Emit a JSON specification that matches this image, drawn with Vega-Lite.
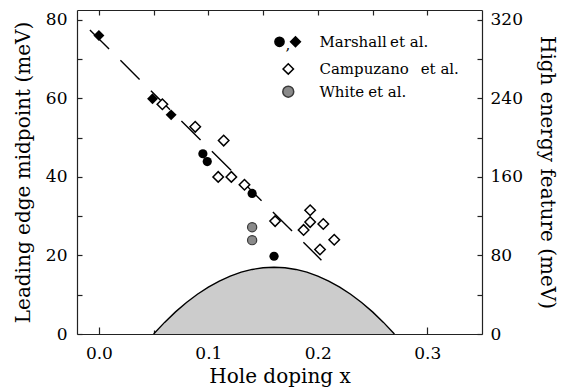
{
  "$schema": "https://vega.github.io/schema/vega-lite/v6.json",
  "width": 405,
  "height": 324,
  "autosize": {"type": "none"},
  "padding": {"left": 77, "top": 10, "right": 83, "bottom": 58},
  "background": "white",
  "config": {
    "font": "DejaVu Serif",
    "view": {"stroke": null},
    "axis": {
      "domainColor": "#222", "tickColor": "#222", "labelColor": "black", "titleColor": "black",
      "labelFont": "DejaVu Serif", "titleFont": "DejaVu Serif",
      "labelFontSize": 17, "titleFontSize": 20, "titleFontWeight": "normal",
      "grid": false, "tickSize": -5, "domainWidth": 1.2, "tickWidth": 1.2
    }
  },
  "datasets": {
    "dome": [
      {"x": 0.05, "y": 0}, {"x": 0.06, "y": 2.96}, {"x": 0.07, "y": 5.63}, {"x": 0.08, "y": 8.01},
      {"x": 0.09, "y": 10.12}, {"x": 0.10, "y": 11.94}, {"x": 0.11, "y": 13.49}, {"x": 0.12, "y": 14.75},
      {"x": 0.13, "y": 15.74}, {"x": 0.14, "y": 16.44}, {"x": 0.15, "y": 16.86}, {"x": 0.16, "y": 17.0},
      {"x": 0.17, "y": 16.86}, {"x": 0.18, "y": 16.44}, {"x": 0.19, "y": 15.74}, {"x": 0.20, "y": 14.75},
      {"x": 0.21, "y": 13.49}, {"x": 0.22, "y": 11.94}, {"x": 0.23, "y": 10.12}, {"x": 0.24, "y": 8.01},
      {"x": 0.25, "y": 5.63}, {"x": 0.26, "y": 2.96}, {"x": 0.27, "y": 0}
    ],
    "fit": [{"x": -0.0082, "y": 77.4}, {"x": 0.2033, "y": 18.8}],
    "marshallCircle": [
      {"x": 0.095, "y": 45.9}, {"x": 0.099, "y": 43.9}, {"x": 0.140, "y": 35.8}, {"x": 0.160, "y": 19.8}
    ],
    "marshallDiamond": [
      {"x": 0.0, "y": 76.0}, {"x": 0.049, "y": 59.9}, {"x": 0.066, "y": 55.8}
    ],
    "white": [
      {"x": 0.140, "y": 27.2}, {"x": 0.140, "y": 23.9}
    ],
    "campuzano": [
      {"x": 0.058, "y": 234}, {"x": 0.088, "y": 211}, {"x": 0.114, "y": 197}, {"x": 0.109, "y": 160},
      {"x": 0.121, "y": 160}, {"x": 0.133, "y": 152}, {"x": 0.161, "y": 115}, {"x": 0.193, "y": 126},
      {"x": 0.193, "y": 114}, {"x": 0.187, "y": 106}, {"x": 0.205, "y": 112}, {"x": 0.202, "y": 86},
      {"x": 0.215, "y": 96}
    ],
    "legendSym": [
      {"x": 0.165, "y": 74.4, "s": "fc"}, {"x": 0.1796, "y": 74.4, "s": "fd"},
      {"x": 0.173, "y": 67.5, "s": "od"}, {"x": 0.173, "y": 61.7, "s": "gc"}
    ],
    "legendText": [
      {"x": 0.2015, "y": 74.4, "t": "Marshall", "it": "n"},
      {"x": 0.266, "y": 74.4, "t": "et al.", "it": "i"},
      {"x": 0.2015, "y": 67.5, "t": "Campuzano", "it": "n"},
      {"x": 0.294, "y": 67.5, "t": "et al.", "it": "i"},
      {"x": 0.2015, "y": 61.7, "t": "White", "it": "n"},
      {"x": 0.246, "y": 61.7, "t": "et al.", "it": "i"},
      {"x": 0.1705, "y": 73.6, "t": ",", "it": "n"}
    ]
  },
  "layer": [
    {
      "layer": [
        {
          "data": {"name": "dome"},
          "mark": {"type": "area", "color": "#cccccc", "opacity": 1, "fillOpacity": 1, "line": {"color": "black", "strokeWidth": 1.4}},
          "encoding": {
            "x": {"field": "x", "type": "quantitative", "scale": {"domain": [-0.02, 0.35], "nice": false, "zero": false},
              "axis": {"orient": "bottom", "title": "Hole doping x", "values": [0, 0.05, 0.1, 0.15, 0.2, 0.25, 0.3],
                "labelExpr": "abs(datum.value*10 - round(datum.value*10)) < 0.001 ? format(datum.value, '.1f') : ''",
                "tickSize": {"condition": {"test": "abs(datum.value*10 - round(datum.value*10)) < 0.001", "value": -7}, "value": -4},
                "labelPadding": 18, "titlePadding": 5}},
            "y": {"field": "y", "type": "quantitative", "scale": {"domain": [0, 82.5], "nice": false},
              "axis": {"orient": "left", "title": "Leading edge midpoint  (meV)", "values": [0, 10, 20, 30, 40, 50, 60, 70, 80],
                "labelExpr": "datum.value % 20 == 0 ? datum.label : ''", "labelPadding": 15, "titlePadding": 12}}
          }
        },
        {
          "data": {"name": "fit"},
          "mark": {"type": "line", "color": "black", "strokeWidth": 1.4, "strokeDash": [27, 16]},
          "encoding": {
            "x": {"field": "x", "type": "quantitative"},
            "y": {"field": "y", "type": "quantitative"}
          }
        },
        {
          "data": {"name": "marshallCircle"},
          "mark": {"type": "point", "shape": "circle", "filled": true, "color": "black", "size": 85, "opacity": 1},
          "encoding": {
            "x": {"field": "x", "type": "quantitative"},
            "y": {"field": "y", "type": "quantitative"}
          }
        },
        {
          "data": {"name": "marshallDiamond"},
          "mark": {"type": "point", "shape": "diamond", "filled": true, "color": "black", "size": 120, "opacity": 1},
          "encoding": {
            "x": {"field": "x", "type": "quantitative"},
            "y": {"field": "y", "type": "quantitative"}
          }
        },
        {
          "data": {"name": "white"},
          "mark": {"type": "point", "shape": "circle", "fill": "#8a8a8a", "stroke": "#3a3a3a", "strokeWidth": 1.2, "size": 85, "opacity": 1, "fillOpacity": 1},
          "encoding": {
            "x": {"field": "x", "type": "quantitative"},
            "y": {"field": "y", "type": "quantitative"}
          }
        },
        {
          "data": {"name": "legendSym"},
          "mark": {"type": "point", "opacity": 1, "fillOpacity": 1, "strokeWidth": 1.5},
          "encoding": {
            "x": {"field": "x", "type": "quantitative"},
            "y": {"field": "y", "type": "quantitative"},
            "shape": {"field": "s", "type": "nominal", "legend": null,
              "scale": {"domain": ["fc", "fd", "od", "gc"], "range": ["circle", "diamond", "diamond", "circle"]}},
            "fill": {"field": "s", "type": "nominal", "legend": null,
              "scale": {"domain": ["fc", "fd", "od", "gc"], "range": ["black", "black", "white", "#8a8a8a"]}},
            "stroke": {"field": "s", "type": "nominal", "legend": null,
              "scale": {"domain": ["fc", "fd", "od", "gc"], "range": ["black", "black", "black", "#3a3a3a"]}},
            "size": {"field": "s", "type": "nominal", "legend": null,
              "scale": {"domain": ["fc", "fd", "od", "gc"], "range": [85, 120, 110, 85]}}
          }
        },
        {
          "data": {"name": "legendText"},
          "mark": {"type": "text", "align": "left", "baseline": "middle", "fontSize": 15, "font": "DejaVu Serif", "color": "black"},
          "encoding": {
            "x": {"field": "x", "type": "quantitative"},
            "y": {"field": "y", "type": "quantitative"},
            "text": {"field": "t", "type": "nominal"},
            "fontStyle": {"field": "it", "type": "nominal", "legend": null,
              "scale": {"domain": ["n", "i"], "range": ["normal", "italic"]}}
          }
        }
      ]
    },
    {
      "data": {"name": "campuzano"},
      "mark": {"type": "point", "shape": "diamond", "fill": "white", "stroke": "black", "strokeWidth": 1.5, "size": 110, "opacity": 1, "fillOpacity": 1},
      "encoding": {
        "x": {"field": "x", "type": "quantitative",
          "axis": {"orient": "top", "labels": false, "title": null, "values": [0, 0.05, 0.1, 0.15, 0.2, 0.25, 0.3]}},
        "y": {"field": "y", "type": "quantitative", "scale": {"domain": [0, 330], "nice": false},
          "axis": {"orient": "right", "title": "High energy feature  (meV)", "values": [0, 40, 80, 120, 160, 200, 240, 280, 320],
            "labelExpr": "datum.value % 80 == 0 ? datum.label : ''", "labelPadding": 13, "titlePadding": 14}}
      }
    }
  ],
  "resolve": {"scale": {"y": "independent"}, "axis": {"x": "independent", "y": "independent"}}
}
